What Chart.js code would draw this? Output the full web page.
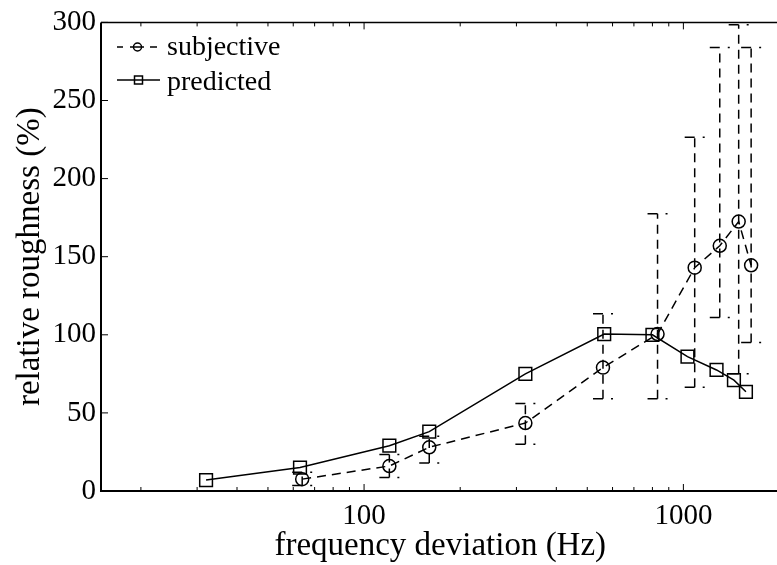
<!DOCTYPE html>
<html>
<head>
<meta charset="utf-8">
<script src="https://cdn.jsdelivr.net/npm/chart.js@4.4.0/dist/chart.umd.min.js"></script>
<style>
  html, body { margin: 0; padding: 0; background: #fff; overflow: hidden; }
  #wrap { position: relative; width: 790px; height: 565px; }
</style>
</head>
<body>
<div id="wrap"><canvas id="roughChart"></canvas></div>
<script>
// values
const subjFreq  = [64, 120, 160, 320, 560, 830, 1085, 1300, 1490, 1630];
const subjRough = [7.6, 16, 28, 43.5, 79, 100.5, 143, 157, 172.5, 144.5];
const subjLow   = [3.5, 8.6, 18, 30, 59, 59, 66.5, 111, 75, 95];
const subjHigh  = [12, 23.3, 35, 56, 113.5, 177.5, 226.5, 284, 298.5, 284];

const predFreq  = [32, 63, 120, 160, 320, 565, 800, 1030, 1270, 1440, 1570];
const predRough = [7, 15, 29, 38, 75, 100.5, 100, 86, 77.5, 71, 63.5];

const xTickLabels = [100, 1000];
const yTickLabels = [0, 50, 100, 150, 200, 250, 300];

const serif = '"Liberation Serif", "Times New Roman", serif';

// box, inward ticks and the legend (matlab look)
const frame = {
  id: 'frame',
  afterDraw(chart) {
    const { ctx, chartArea: a, scales: { x, y } } = chart;
    ctx.save();
    ctx.strokeStyle = '#000';
    ctx.setLineDash([]);

    ctx.lineWidth = 2;
    ctx.beginPath();
    ctx.moveTo(a.left, a.top);
    ctx.lineTo(a.left, a.bottom);
    ctx.lineTo(a.right, a.bottom);
    ctx.stroke();
    ctx.lineWidth = 1.5;
    ctx.beginPath();
    ctx.moveTo(a.left, a.top);
    ctx.lineTo(a.right, a.top);
    ctx.stroke();

    ctx.lineWidth = 1;
    const xTick = (v, len) => {
      const px = x.getPixelForValue(v);
      if (px <= a.left || px > a.right) return;
      ctx.beginPath();
      ctx.moveTo(px, a.bottom); ctx.lineTo(px, a.bottom - len);
      ctx.moveTo(px, a.top); ctx.lineTo(px, a.top + len);
      ctx.stroke();
    };
    for (let dec = 10; dec <= 1000; dec *= 10) {
      for (let m = 1; m <= 9; m++) xTick(m * dec, m === 1 ? 7 : 4);
    }
    xTick(2000, 4);
    yTickLabels.forEach(v => {
      const py = y.getPixelForValue(v);
      ctx.beginPath();
      ctx.moveTo(a.left, py); ctx.lineTo(a.left + 7, py);
      ctx.stroke();
    });

    // legend
    ctx.lineWidth = 1.5;
    ctx.setLineDash([6, 7, 14, 6, 7]);
    ctx.beginPath(); ctx.moveTo(117, 47); ctx.lineTo(157, 47); ctx.stroke();
    ctx.setLineDash([]);
    ctx.beginPath(); ctx.arc(137.5, 47, 4, 0, Math.PI * 2); ctx.stroke();
    ctx.beginPath(); ctx.moveTo(117, 80); ctx.lineTo(160, 80); ctx.stroke();
    ctx.strokeRect(134.5, 76, 8, 8);

    ctx.fillStyle = '#000';
    ctx.font = '28px ' + serif;
    ctx.textBaseline = 'alphabetic';
    ctx.fillText('subjective', 167, 55);
    ctx.fillText('predicted', 167, 90);
    ctx.restore();
  }
};

// dashed matlab style error bars
const errorBars = {
  id: 'errorBars',
  afterDatasetsDraw(chart) {
    const { ctx, chartArea: a, scales: { x, y } } = chart;
    ctx.save();
    ctx.beginPath();
    ctx.rect(a.left, a.top - 2, a.right - a.left, a.bottom - a.top + 4);
    ctx.clip();
    ctx.strokeStyle = '#000';
    ctx.lineWidth = 1.5;
    subjFreq.forEach((f, i) => {
      const px = x.getPixelForValue(f);
      const top = y.getPixelForValue(subjHigh[i]);
      const bot = y.getPixelForValue(subjLow[i]);
      ctx.setLineDash([9, 6]);
      ctx.beginPath(); ctx.moveTo(px, bot); ctx.lineTo(px, top); ctx.stroke();
      ctx.setLineDash([10, 8, 2, 100]);
      [top, bot].forEach(py => {
        ctx.beginPath(); ctx.moveTo(px - 10, py); ctx.lineTo(px + 10, py); ctx.stroke();
      });
    });
    ctx.restore();
  }
};

new Chart(document.getElementById('roughChart'), {
  type: 'line',
  data: {
    datasets: [
      {
        label: 'subjective',
        data: subjFreq.map((f, i) => ({ x: f, y: subjRough[i] })),
        borderColor: '#000',
        borderWidth: 1.5,
        borderDash: [9, 6],
        pointStyle: 'circle',
        pointRadius: 6.5,
        pointBorderWidth: 1.5,
        pointBorderColor: '#000',
        pointBackgroundColor: 'rgba(0,0,0,0)',
        tension: 0,
        fill: false
      },
      {
        label: 'predicted',
        data: predFreq.map((f, i) => ({ x: f, y: predRough[i] })),
        borderColor: '#000',
        borderWidth: 1.5,
        pointStyle: 'rect',
        pointRadius: 9,
        pointBorderWidth: 1.5,
        pointBorderColor: '#000',
        pointBackgroundColor: 'rgba(0,0,0,0)',
        tension: 0,
        fill: false
      }
    ]
  },
  options: {
    responsive: true,
    maintainAspectRatio: false,
    animation: false,
    layout: { padding: { top: 16, right: 5, left: 0, bottom: 0 } },
    plugins: { legend: { display: false }, tooltip: { enabled: false } },
    scales: {
      x: {
        type: 'logarithmic',
        min: 15,
        max: 2000,
        afterBuildTicks: s => { s.ticks = xTickLabels.map(v => ({ value: v })); },
        afterFit: s => { s.height = 74; },
        grid: { display: false, drawTicks: false },
        border: { display: false },
        ticks: {
          callback: v => String(v),
          color: '#000',
          font: { family: serif, size: 29 },
          padding: 8,
          maxRotation: 0,
          autoSkip: false
        },
        title: {
          display: true,
          text: 'frequency deviation (Hz)',
          color: '#000',
          font: { family: serif, size: 33 },
          padding: { top: 0, bottom: -1 }
        }
      },
      y: {
        min: 0,
        max: 300,
        afterBuildTicks: s => { s.ticks = yTickLabels.map(v => ({ value: v })); },
        afterFit: s => { s.width = 101; },
        grid: { display: false, drawTicks: false },
        border: { display: false },
        ticks: {
          color: '#000',
          font: { family: serif, size: 29 },
          padding: 5
        },
        title: {
          display: true,
          text: 'relative roughness (%)',
          color: '#000',
          font: { family: serif, size: 33 },
          padding: { top: 11, bottom: 0 }
        }
      }
    }
  },
  plugins: [frame, errorBars]
});
</script>
</body>
</html>
